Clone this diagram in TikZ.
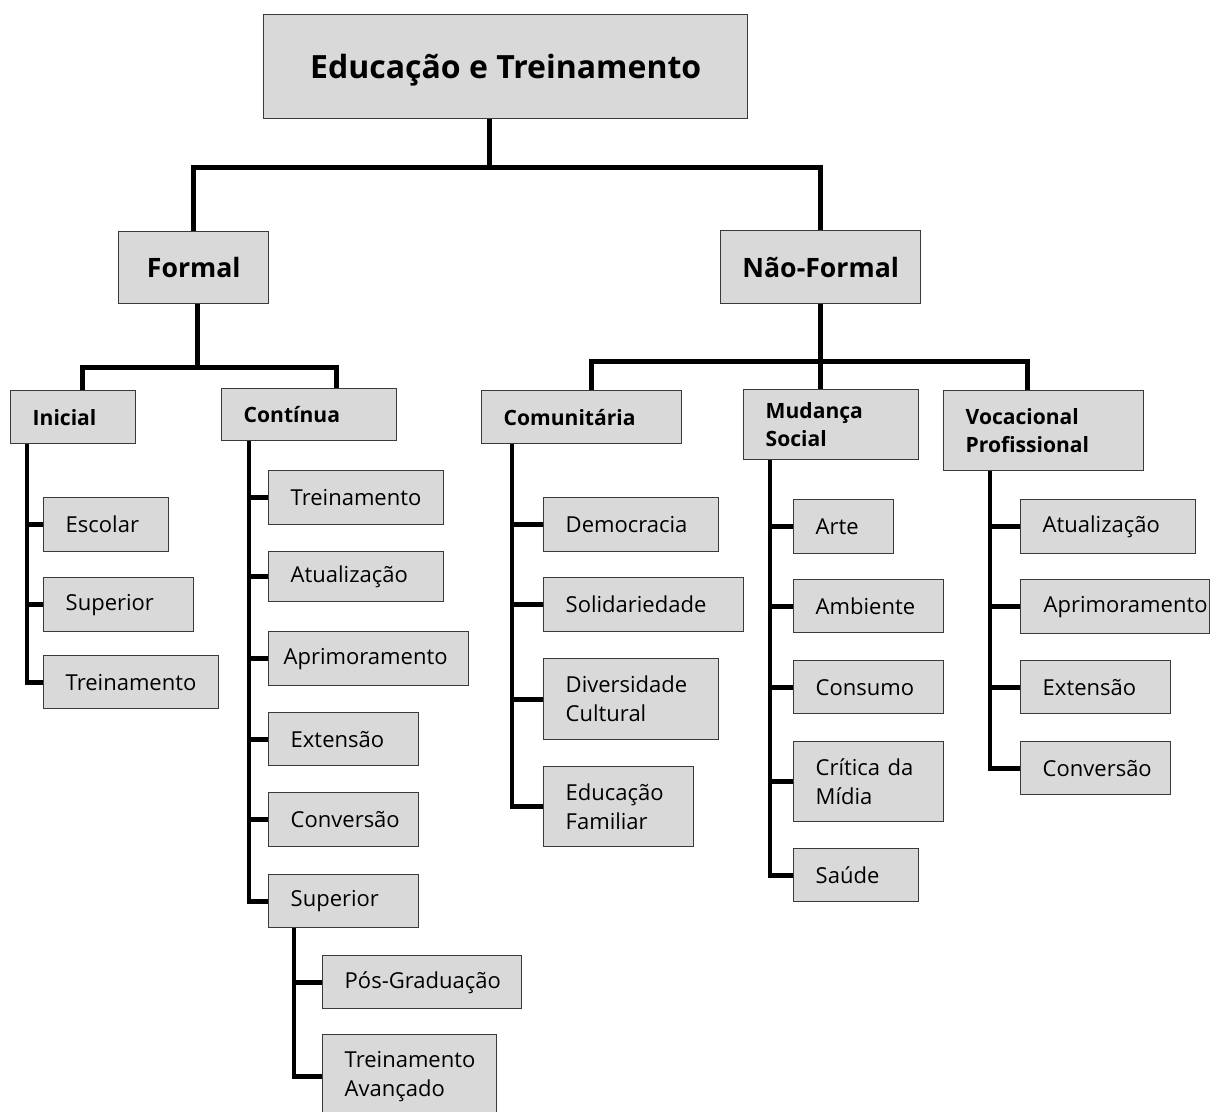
\documentclass[tikz,border=0pt]{standalone}
\usepackage{fontspec}
\setmainfont{Open Sans}
\definecolor{boxfill}{HTML}{D9D9D9}
\definecolor{boxline}{HTML}{3A3A3A}
\begin{document}
\begin{tikzpicture}[x=0.75pt,y=-0.75pt,
  box/.style={draw=boxline, fill=boxfill, line width=1.1pt, anchor=north west,
    inner ysep=0pt, inner xsep=16.5pt, align=left},
  item/.style={box, font=\fontsize{16.5}{21.75}\selectfont},
  head/.style={box, font=\fontsize{15.8}{21}\selectfont\bfseries},
  sz/.style 2 args={text width={(#1-44)*0.75pt}, minimum height={#2*0.75pt}},
  conn/.style={line width=3.4pt, line join=miter, draw=black}]

\useasboundingbox[fill=white] (0,0) rectangle (1210,1111);

% --- top levels ---
\node[box, align=center, inner xsep=0pt, minimum width={484*0.75pt}, minimum height={104*0.75pt},
      text height=20pt, text depth=3pt,
      font=\fontsize{24}{28}\selectfont\bfseries] (title) at (263,14) {Educação e Treinamento};
\node[box, align=center, inner xsep=0pt, minimum width={150*0.75pt}, minimum height={72*0.75pt},
      font=\fontsize{20}{24}\selectfont\bfseries] (formal) at (118,231) {Formal};
\node[box, align=center, inner xsep=0pt, minimum width={200*0.75pt}, minimum height={73*0.75pt},
      font=\fontsize{20}{24}\selectfont\bfseries] (nform) at (720,230) {Não-Formal};

% --- second level ---
\node[head, sz={125}{53}] (ini)  at (10,390)  {Inicial};
\node[head, sz={175}{52}] (cont) at (221,388) {Contínua};
\node[head, sz={200}{53}] (com)  at (481,390) {Comunitária};
\node[head, sz={175}{70}] (mud)  at (743,389) {Mudança\\Social};
\node[head, sz={200}{80}] (voc)  at (943,390) {Vocacional\\Profissional};

% --- Inicial ---
\node[item, sz={125}{54}] (i1) at (43,497) {Escolar};
\node[item, sz={150}{54}] (i2) at (43,577) {Superior};
\node[item, sz={175}{53}] (i3) at (43,655) {Treinamento};

% --- Contínua ---
\node[item, sz={175}{54}] (c1) at (268,470) {Treinamento};
\node[item, sz={175}{50}] (c2) at (268,551) {Atualização};
\node[item, inner xsep=11.25pt, text width={170*0.75pt}, minimum height={54*0.75pt}] (c3) at (268,631) {Aprimoramento};
\node[item, sz={150}{53}] (c4) at (268,712) {Extensão};
\node[item, sz={150}{54}] (c5) at (268,792) {Conversão};
\node[item, sz={150}{53}] (c6) at (268,874) {Superior};
\node[item, sz={199}{53}] (p1) at (322,955) {\mbox{Pós-Graduação}};
\node[item, sz={174}{84}] (p2) at (322,1034) {Treinamento\\Avançado};

% --- Comunitária ---
\node[item, sz={175}{54}] (m1) at (543,497) {Democracia};
\node[item, sz={200}{54}] (m2) at (543,577) {Solidariedade};
\node[item, sz={175}{81}] (m3) at (543,658) {Diversidade\\Cultural};
\node[item, sz={150}{80}] (m4) at (543,766) {Educação\\Familiar};

% --- Mudança Social ---
\node[item, sz={100}{54}] (s1) at (793,499) {Arte};
\node[item, sz={150}{53}] (s2) at (793,579) {Ambiente};
\node[item, sz={150}{53}] (s3) at (793,660) {Consumo};
\node[item, sz={150}{80}] (s4) at (793,741) {Crítica da\\Mídia};
\node[item, sz={125}{53}] (s5) at (793,848) {Saúde};

% --- Vocacional Profissional ---
\node[item, sz={175}{54}] (v1) at (1020,499) {Atualização};
\node[item, inner xsep=17.25pt, text width={143*0.75pt}, minimum height={54*0.75pt}] (v2) at (1020,579) {Aprimoramento};
\node[item, sz={150}{53}] (v3) at (1020,660) {Extensão};
\node[item, sz={150}{53}] (v4) at (1020,741) {Conversão};

% --- buses ---
\draw[conn] ([xshift=-12pt]title.south) -- ++(0,48) coordinate (j0);
\draw[conn] (formal.north) |- (j0) -| (nform.north);

\draw[conn] ([xshift=3pt]formal.south) -- ++(0,63) coordinate (j1);
\draw[conn] ([xshift=7pt]ini.north) |- (j1) -| ([xshift=20.6pt]cont.north);

\draw[conn] (nform.south) -- ++(0,57) coordinate (j2);
\draw[conn] ([xshift=7.5pt]com.north) |- (j2) -| ([xshift=-12pt]voc.north);
\draw[conn] (j2) -- (mud.north -| j2);

% --- spines and branches ---
\draw[conn] ([xshift=12.75pt]ini.south west) coordinate (ki) |- (i3.west);
\foreach \c in {i1,i2} \draw[conn] (\c.west) -- (\c.west -| ki);

\draw[conn] ([xshift=21pt]cont.south west) coordinate (kc) |- (c6.west);
\foreach \c in {c1,c2,c3,c4,c5} \draw[conn] (\c.west) -- (\c.west -| kc);

\draw[conn] ([xshift=19.5pt]c6.south west) coordinate (kp) |- (p2.west);
\draw[conn] (p1.west) -- (p1.west -| kp);

\draw[conn] ([xshift=23.25pt]com.south west) coordinate (km) |- (m4.west);
\foreach \c in {m1,m2,m3} \draw[conn] (\c.west) -- (\c.west -| km);

\draw[conn] ([xshift=20.25pt]mud.south west) coordinate (ks) |- (s5.west);
\foreach \c in {s1,s2,s3,s4} \draw[conn] (\c.west) -- (\c.west -| ks);

\draw[conn] ([xshift=35.25pt]voc.south west) coordinate (kv) |- (v4.west);
\foreach \c in {v1,v2,v3} \draw[conn] (\c.west) -- (\c.west -| kv);
\end{tikzpicture}
\end{document}
